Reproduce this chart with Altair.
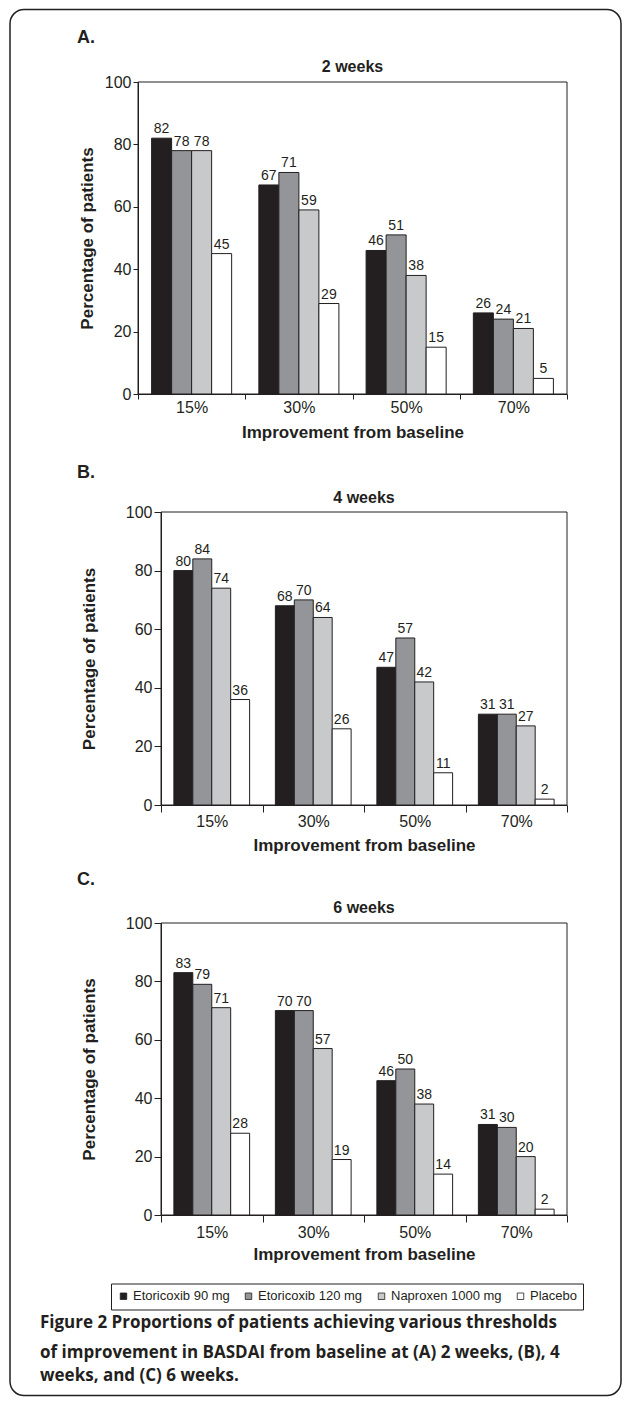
import altair as alt
import pandas as pd

# ---------------- data ----------------
categories = ["15%", "30%", "50%", "70%"]
treatments = ["Etoricoxib 90 mg", "Etoricoxib 120 mg", "Naproxen 1000 mg", "Placebo"]
bar_colors = ["#231f20", "#939598", "#c8c9cb", "#ffffff"]

wk2_etori90 = [82, 67, 46, 26]
wk2_etori120 = [78, 71, 51, 24]
wk2_naproxen = [78, 59, 38, 21]
wk2_placebo = [45, 29, 15, 5]

wk4_etori90 = [80, 68, 47, 31]
wk4_etori120 = [84, 70, 57, 31]
wk4_naproxen = [74, 64, 42, 27]
wk4_placebo = [36, 26, 11, 2]

wk6_etori90 = [83, 70, 46, 31]
wk6_etori120 = [79, 70, 50, 30]
wk6_naproxen = [71, 57, 38, 20]
wk6_placebo = [28, 19, 14, 2]

y_ticks = [0, 20, 40, 60, 80, 100]
panel_titles = ["2 weeks", "4 weeks", "6 weeks"]
panel_letters = ["A.", "B.", "C."]
y_title = "Percentage of patients"
x_title = "Improvement from baseline"
caption_lines = [
    "Figure 2 Proportions of patients achieving various thresholds",
    "of improvement in BASDAI from baseline at (A) 2 weeks, (B), 4",
    "weeks, and (C) 6 weeks.",
]

INK = "#231f20"
SANS = "Liberation Sans"
CAP_FONT = "Open Sans"
W = 429


def table(series_values):
    rows = []
    for name, vals in zip(treatments, series_values):
        for cat, v in zip(categories, vals):
            rows.append({"threshold": cat, "treatment": name, "pct": v})
    return pd.DataFrame(rows)


def panel(df, title, letter, h, lay, legend):
    left = lay["left"]
    x = alt.X(
        "threshold:N",
        sort=categories,
        scale=alt.Scale(paddingInner=0, paddingOuter=0, range=[left, W]),
        axis=alt.Axis(
            title=x_title, labelAngle=0, tickBand="extent",
            tickSize=lay["tick"], labelPadding=lay["xlp"], titlePadding=lay["xtp"],
            labelFontSize=16, titleFontSize=17,
        ),
    )
    xo = alt.XOffset(
        "treatment:N", sort=treatments,
        scale=alt.Scale(paddingInner=0, paddingOuter=0.68),
    )
    y = alt.Y(
        "pct:Q",
        scale=alt.Scale(domain=[0, 100], nice=False),
        axis=alt.Axis(
            values=y_ticks, title=y_title, grid=False, offset=-left,
            tickSize=lay["tick"], labelPadding=2, titlePadding=lay["ytp"],
            labelFontSize=16, titleFontSize=17,
        ),
    )
    color = alt.Color(
        "treatment:N", sort=treatments,
        scale=alt.Scale(domain=treatments, range=bar_colors),
        legend=legend,
    )
    one = pd.DataFrame({"t": [0]})
    box = alt.Chart(one).mark_rect(fillOpacity=0, stroke=INK, strokeWidth=1).encode(
        x=alt.value(left), x2=alt.value(W), y=alt.value(0), y2=alt.value(h)
    )
    base = alt.Chart(df)
    bars = base.mark_bar(stroke=INK, strokeWidth=1).encode(x=x, xOffset=xo, y=y, color=color)
    labels = base.mark_text(
        baseline="bottom", dy=-2, fontSize=14, font=SANS, color=INK
    ).encode(x=x, xOffset=xo, y=y, text="pct:Q")
    ttl = alt.Chart(pd.DataFrame({"t": [title]})).mark_text(
        fontSize=16, fontWeight="bold", font=SANS, color=INK, baseline="middle"
    ).encode(x=alt.value((left + W) / 2), y=alt.value(lay["title_y"]), text="t:N")
    let = alt.Chart(pd.DataFrame({"t": [letter]})).mark_text(
        fontSize=18, fontWeight="bold", font=SANS, color=INK, align="left", baseline="middle"
    ).encode(x=alt.value(-61), y=alt.value(lay["let_y"]), text="t:N")
    return alt.layer(box, bars, labels, ttl, let).properties(width=W, height=h)


dfA = table([wk2_etori90, wk2_etori120, wk2_naproxen, wk2_placebo])
dfB = table([wk4_etori90, wk4_etori120, wk4_naproxen, wk4_placebo])
dfC = table([wk6_etori90, wk6_etori120, wk6_naproxen, wk6_placebo])

layA = dict(left=0, tick=5, xlp=0, xtp=9, ytp=8, title_y=-15.5, let_y=-44.5)
layB = dict(left=23, tick=7, xlp=1, xtp=8, ytp=27, title_y=-14.5, let_y=-39.5)
layC = dict(left=23, tick=7, xlp=2, xtp=6, ytp=27, title_y=-15.5, let_y=-43.5)

legendC = alt.Legend(
    orient="none", legendX=-27, legendY=360.5, direction="horizontal", title=None,
    symbolType="square", symbolSize=42, symbolStrokeColor=INK, symbolStrokeWidth=0.8,
    labelFont=SANS, labelFontSize=13, labelColor=INK, labelOffset=3,
    columnPadding=12, strokeColor=INK, padding=6,
)

panelA = panel(dfA, panel_titles[0], panel_letters[0], 312, layA, None)
panelB = panel(dfB, panel_titles[1], panel_letters[1], 293, layB, None)
panelC = panel(dfC, panel_titles[2], panel_letters[2], 292, layC, legendC)

# caption + outer frame
frame = alt.Chart(pd.DataFrame({"t": [0]})).mark_rect(
    fillOpacity=0, stroke=INK, strokeWidth=1.5, cornerRadius=14
).encode(x=alt.value(-128), x2=alt.value(483), y=alt.value(-1323.5), y2=alt.value(62.5))
cap_layers = [frame]
for line, yy in zip(caption_lines, [-10.5, 19.5, 42.5]):
    cap_layers.append(
        alt.Chart(pd.DataFrame({"t": [line]})).mark_text(
            font=CAP_FONT, fontSize=17, fontWeight="bold", color=INK,
            align="left", baseline="middle"
        ).encode(x=alt.value(-98), y=alt.value(yy), text="t:N")
    )
caption = alt.layer(*cap_layers).properties(width=W, height=40)

chart = alt.vconcat(
    panelA, panelB, panelC, caption, spacing=118, bounds="flush"
).resolve_scale(
    color="independent", x="independent", y="independent", xOffset="independent"
).properties(
    padding={"left": 8, "top": 8, "right": 0, "bottom": 0},
    background="white",
).configure_view(
    stroke="transparent"
).configure_axis(
    labelFont=SANS, titleFont=SANS, labelColor=INK, titleColor=INK,
    domainColor=INK, tickColor=INK, titleFontWeight="bold", grid=False,
)

chart.save("out.html", embed_options={"renderer": "svg", "actions": False})
